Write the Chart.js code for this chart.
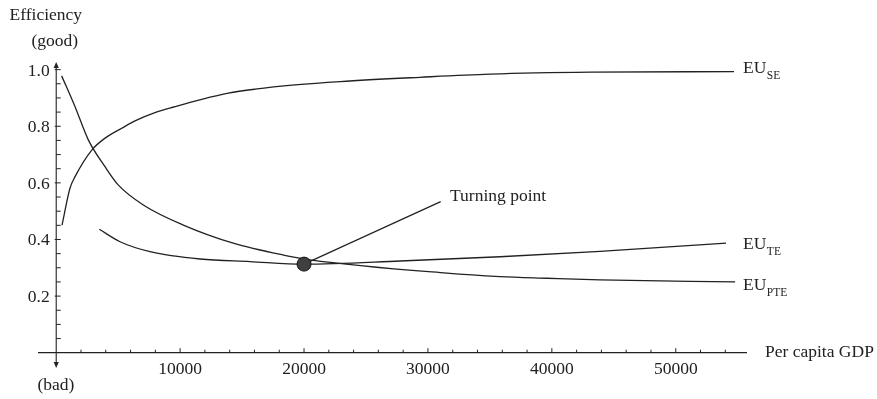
<!DOCTYPE html>
<html>
<head>
<meta charset="utf-8">
<script src="https://cdn.jsdelivr.net/npm/chart.js@4/dist/chart.umd.min.js"></script>
<style>
  html, body { margin: 0; padding: 0; background: #fff; }
  #wrap { width: 877px; height: 399px; }
</style>
</head>
<body>
<div id="wrap"><canvas id="c" width="877" height="399"></canvas></div>
<script>
// Per capita GDP (x) and efficiency (y) for the three efficiency curves
const gdpSE  = [470, 1110, 1520, 2870, 3940, 5290, 6360, 7970, 9590, 11740, 13890, 16050, 19270, 22910, 29360, 35010, 43080, 54700];
const effSE  = [0.451, 0.581, 0.622, 0.716, 0.758, 0.793, 0.819, 0.848, 0.869, 0.895, 0.917, 0.931, 0.946, 0.958, 0.973, 0.984, 0.991, 0.993];

const gdpPTE = [440, 1520, 2590, 3940, 5000, 7030, 10260, 14290, 18330, 20480, 31520, 35820, 39590, 43890, 54790];
const effPTE = [0.978, 0.869, 0.752, 0.657, 0.593, 0.522, 0.451, 0.387, 0.345, 0.328, 0.281, 0.269, 0.263, 0.257, 0.250];

const gdpTE  = [3480, 5150, 7570, 11610, 15640, 20000, 27760, 35820, 43890, 54060];
const effTE  = [0.436, 0.392, 0.357, 0.331, 0.322, 0.313, 0.324, 0.339, 0.358, 0.387];

// Turning point of EU_TE
const turningGdp = 20000;
const turningEff = 0.313;

// Axis tick labels
const xTickValues = [10000, 20000, 30000, 40000, 50000];
const yTickValues = [0.2, 0.4, 0.6, 0.8, 1.0];
const yTickLabels = ['0.2', '0.4', '0.6', '0.8', '1.0'];

const X_MIN = -1470, X_MAX = 55750;
const Y_MIN = -0.054, Y_MAX = 1.027;

const INK = '#222';
const SERIF = '"Liberation Serif", "Times New Roman", serif';
const FONT = '17.5px ' + SERIF;
const SUB_FONT = '11.5px ' + SERIF;

const pts = (xs, ys) => xs.map((x, i) => ({ x, y: ys[i] }));

// Curve end labels: main text, subscript, anchor in data space
const curveLabels = [
  { main: 'EU', sub: 'SE',  x: 55430, y: 0.987 },
  { main: 'EU', sub: 'TE',  x: 55430, y: 0.365 },
  { main: 'EU', sub: 'PTE', x: 55430, y: 0.2216 }
];
const pointerEnd = { x: 31030, y: 0.5336 };
const pointerText = { text: 'Turning point', x: 31780, y: 0.536 };

const axesPlugin = {
  id: 'econAxes',
  beforeDatasetsDraw(chart) {
    const ctx = chart.ctx;
    const xs = chart.scales.x, ys = chart.scales.y;
    const x0 = xs.getPixelForValue(0);
    const y0 = ys.getPixelForValue(0);
    ctx.save();
    ctx.strokeStyle = INK;
    ctx.fillStyle = INK;
    ctx.lineWidth = 1.3;

    // horizontal axis
    ctx.beginPath();
    ctx.moveTo(xs.getPixelForValue(X_MIN), y0);
    ctx.lineTo(xs.getPixelForValue(X_MAX), y0);
    ctx.stroke();

    // vertical axis with arrows at both ends
    const yTop = ys.getPixelForValue(Y_MAX);
    const yBot = ys.getPixelForValue(Y_MIN);
    ctx.lineWidth = 1.1;
    ctx.beginPath();
    ctx.moveTo(x0, yTop + 4);
    ctx.lineTo(x0, yBot - 4);
    ctx.stroke();
    ctx.beginPath();
    ctx.moveTo(x0, yTop); ctx.lineTo(x0 - 2.6, yTop + 6); ctx.lineTo(x0 + 2.6, yTop + 6); ctx.closePath();
    ctx.fill();
    ctx.beginPath();
    ctx.moveTo(x0, yBot); ctx.lineTo(x0 - 2.6, yBot - 6); ctx.lineTo(x0 + 2.6, yBot - 6); ctx.closePath();
    ctx.fill();

    // x ticks: minor every 2000, major every 10000
    ctx.lineWidth = 1;
    for (let v = 2000; v <= 54000; v += 2000) {
      const px = xs.getPixelForValue(v);
      const major = v % 10000 === 0;
      ctx.beginPath();
      ctx.moveTo(px, y0);
      ctx.lineTo(px, y0 - (major ? 4.5 : 3));
      ctx.stroke();
    }
    // y ticks: minor every 0.05, major every 0.2
    for (let k = 1; k <= 20; k++) {
      const v = k * 0.05;
      const py = ys.getPixelForValue(v);
      const major = k % 4 === 0;
      ctx.beginPath();
      ctx.moveTo(x0 - (major ? 1.5 : 0), py);
      ctx.lineTo(x0 + 4.5, py);
      ctx.stroke();
    }

    // tick labels
    ctx.font = FONT;
    ctx.textBaseline = 'alphabetic';
    ctx.textAlign = 'center';
    xTickValues.forEach(v => {
      ctx.fillText(String(v), xs.getPixelForValue(v), y0 + 21.5);
    });
    ctx.textAlign = 'right';
    yTickValues.forEach((v, i) => {
      ctx.fillText(yTickLabels[i], x0 - 6.5, ys.getPixelForValue(v) + 6);
    });

    // axis titles
    ctx.textAlign = 'left';
    ctx.fillText('Efficiency', 9.5, 19.5);
    ctx.fillText('(good)', 31.5, 46);
    ctx.fillText('(bad)', 37.5, 390);
    ctx.fillText('Per capita GDP', xs.getPixelForValue(X_MAX) + 18, y0 + 4);
    ctx.restore();
  },
  afterDatasetsDraw(chart) {
    const ctx = chart.ctx;
    const xs = chart.scales.x, ys = chart.scales.y;
    ctx.save();
    ctx.fillStyle = INK;
    ctx.textBaseline = 'alphabetic';
    ctx.textAlign = 'left';
    curveLabels.forEach(l => {
      const px = xs.getPixelForValue(l.x);
      const py = ys.getPixelForValue(l.y);
      ctx.font = FONT;
      ctx.fillText(l.main, px, py);
      const w = ctx.measureText(l.main).width;
      ctx.font = SUB_FONT;
      ctx.fillText(l.sub, px + w + 0.5, py + 6);
    });
    ctx.font = FONT;
    ctx.fillText(pointerText.text, xs.getPixelForValue(pointerText.x), ys.getPixelForValue(pointerText.y));
    ctx.restore();
  }
};

const lineStyle = {
  showLine: true,
  borderColor: INK,
  borderWidth: 1.3,
  pointRadius: 0,
  pointHoverRadius: 0,
  fill: false,
  cubicInterpolationMode: 'monotone'
};

new Chart(document.getElementById('c'), {
  type: 'scatter',
  data: {
    datasets: [
      { label: 'Turning point', data: [{ x: turningGdp, y: turningEff }],
        pointRadius: 7, pointBackgroundColor: '#404040', pointBorderColor: '#111',
        pointBorderWidth: 1, showLine: false, order: 0 },
      Object.assign({ label: 'pointer', data: [{ x: turningGdp, y: turningEff }, pointerEnd], order: 1 }, lineStyle, { borderWidth: 1.2, cubicInterpolationMode: 'default', tension: 0 }),
      Object.assign({ label: 'EU_SE',  data: pts(gdpSE, effSE),   order: 2 }, lineStyle),
      Object.assign({ label: 'EU_TE',  data: pts(gdpTE, effTE),   order: 2 }, lineStyle),
      Object.assign({ label: 'EU_PTE', data: pts(gdpPTE, effPTE), order: 2 }, lineStyle)
    ]
  },
  options: {
    responsive: false,
    animation: false,
    events: [],
    layout: { padding: { left: 38, right: 130, top: 62, bottom: 31 } },
    plugins: { legend: { display: false }, tooltip: { enabled: false } },
    scales: {
      x: { type: 'linear', min: X_MIN, max: X_MAX, display: false },
      y: { type: 'linear', min: Y_MIN, max: Y_MAX, display: false }
    }
  },
  plugins: [axesPlugin]
});
</script>
</body>
</html>
